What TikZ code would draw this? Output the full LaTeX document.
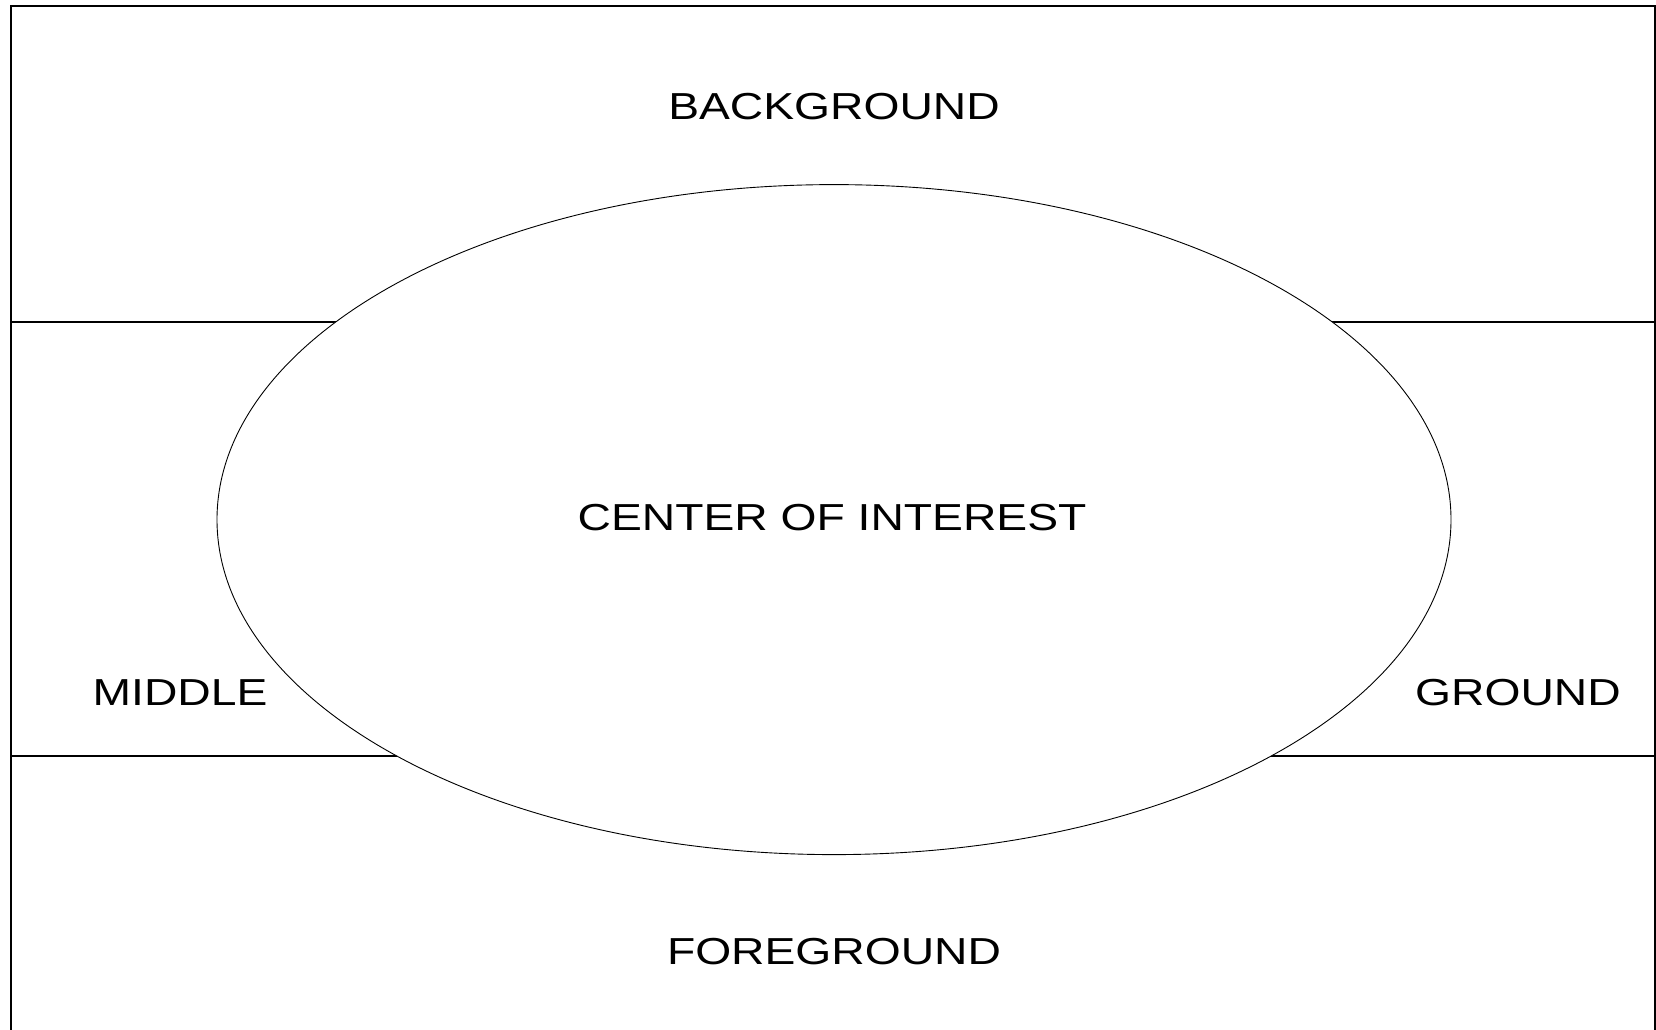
\documentclass[tikz,border=0pt]{standalone}
\usepackage{fontspec}
\setmainfont{Liberation Sans}[FakeStretch=1.23]
\begin{document}
\begin{tikzpicture}[x=0.5pt,y=-0.5pt,
  label text/.style={font=\fontsize{18.8pt}{20pt}\selectfont, inner sep=0pt, anchor=center},
  frame line/.style={line width=1pt},
  divider/.style={line width=0.9pt},
  oval/.style={line width=0.45pt, fill=white}]
  \useasboundingbox (0,0) rectangle (1656,1029);
  % outer frame (open below the page edge)
  \draw[frame line] (10.5,1040) -- (10.5,5.5) -- (1655,5.5) -- (1655,1040);
  % band dividers
  \draw[divider] (10.5,321.7) -- (1655,321.7);
  \draw[divider] (10.5,755.7) -- (1655,755.7);
  % central oval
  \draw[oval] (834,519.6) ellipse [x radius=617, y radius=335];
  % labels
  \node[label text] (bg) at (834,107) {BACKGROUND};
  \node[label text] (coi) at (832,518) {CENTER OF INTEREST};
  \node[label text] (mid) at (180,692.5) {MIDDLE};
  \node[label text] (gr) at (1518,692.5) {GROUND};
  \node[label text] (fg) at (834,951.5) {FOREGROUND};
\end{tikzpicture}
\end{document}
